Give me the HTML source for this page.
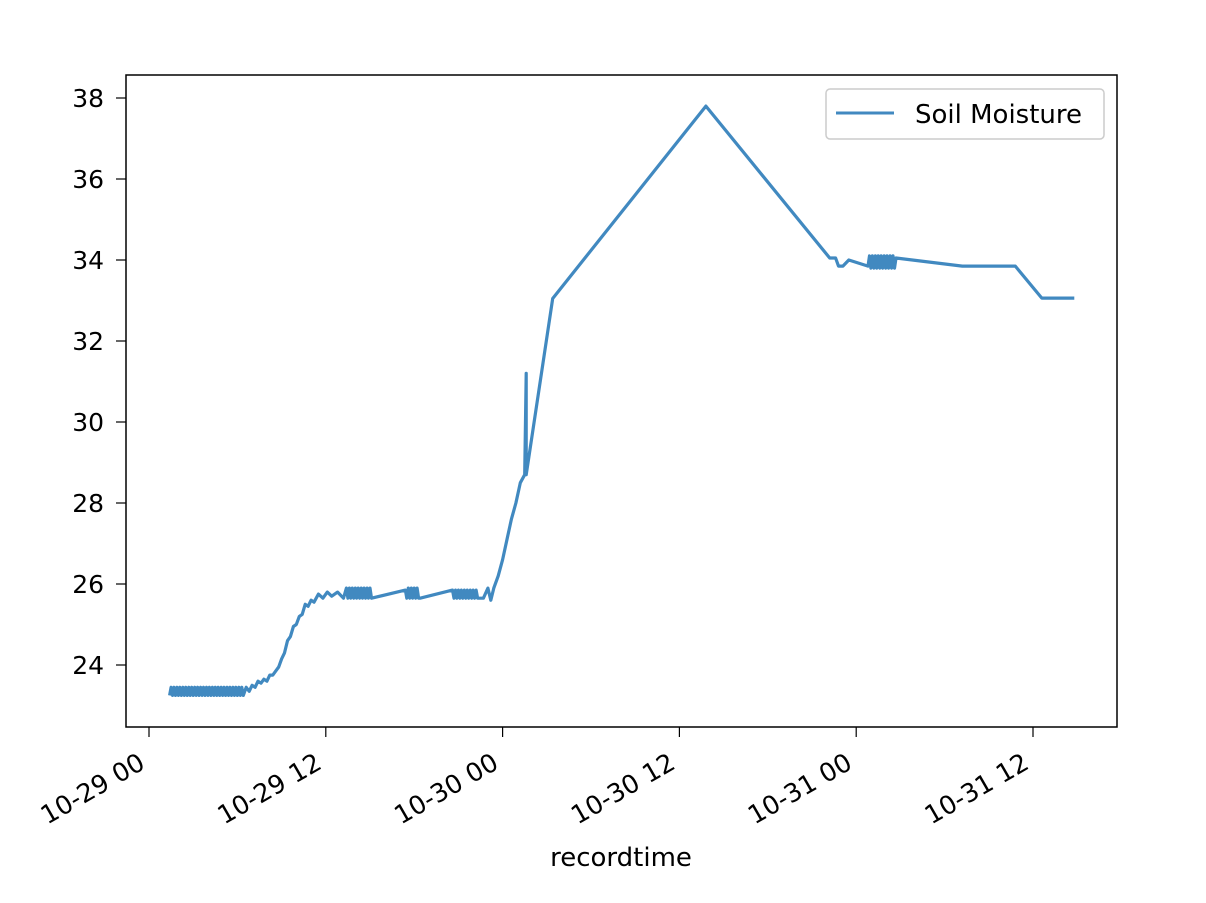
<!DOCTYPE html>
<html><head><meta charset="utf-8"><style>
body{margin:0;background:#fff}
svg text{font-family:"DejaVu Sans","Liberation Sans",sans-serif;fill:#000}
</style></head><body>
<svg id="chart" width="1206" height="898" xmlns="http://www.w3.org/2000/svg">
<g id="plot"></g>
<rect x="126" y="75" width="991" height="652" fill="none" stroke="#000" stroke-width="1.5"/>
<g id="xticks"></g><g id="yticks"></g>
<text x="621" y="866" font-size="26" text-anchor="middle">recordtime</text>
<g>
<rect x="826" y="89" width="278" height="50" rx="4" fill="#fff" stroke="#ccc" stroke-width="1.5"/>
<line x1="836" y1="113" x2="894" y2="113" stroke="#4189c0" stroke-width="3"/>
<text x="915" y="123" font-size="26">Soil Moisture</text>
</g>
</svg>
<script>
const hours=[
1.4,1.5,1.6,1.7,1.8,1.9,2.0,2.1,2.2,2.3,2.4,2.5,2.6,2.7,2.8,2.9,3.0,3.1,3.2,3.3,3.4,3.5,3.6,3.7,3.8,3.9,4.0,4.1,4.2,4.3,4.4,4.5,4.6,4.7,4.8,4.9,5.0,5.1,5.2,5.3,5.4,5.5,5.6,5.7,5.8,5.9,6.0,6.1,6.2,6.3,6.4,
6.6,6.8,7.0,7.2,7.4,7.6,7.8,8.0,8.2,8.4,8.6,8.8,9.0,9.2,9.4,9.6,9.8,10.0,10.2,10.4,10.6,10.8,11.0,11.2,11.5,11.8,12.1,12.4,12.8,13.2,
13.4,13.5,13.6,13.7,13.8,13.9,14.0,14.1,14.2,14.3,14.4,14.5,14.6,14.7,14.8,14.9,15.0,15.1,
17.4,17.5,17.6,17.7,17.8,17.9,18.0,18.1,18.2,18.3,18.4,
20.6,20.7,20.8,20.9,21.0,21.1,21.2,21.3,21.4,21.5,21.6,21.7,21.8,21.9,22.0,22.1,22.2,22.3,
22.7,23.0,23.2,23.4,23.7,24.0,24.3,24.6,24.9,25.2,25.5,25.6,25.6,25.6,
27.4,37.8,46.2,46.6,46.8,47.1,47.5,
48.8,48.9,49.0,49.1,49.2,49.3,49.4,49.5,49.6,49.7,49.8,49.9,50.0,50.1,50.2,50.3,50.4,50.5,50.6,
50.7,55.2,58.8,60.6,62.8];
const moisture=[
23.25,23.45,23.25,23.45,23.25,23.45,23.25,23.45,23.25,23.45,23.25,23.45,23.25,23.45,23.25,23.45,23.25,23.45,23.25,23.45,23.25,23.45,23.25,23.45,23.25,23.45,23.25,23.45,23.25,23.45,23.25,23.45,23.25,23.45,23.25,23.45,23.25,23.45,23.25,23.45,23.25,23.45,23.25,23.45,23.25,23.45,23.25,23.45,23.25,23.45,23.25,
23.45,23.35,23.5,23.45,23.6,23.55,23.65,23.6,23.75,23.75,23.85,23.95,24.15,24.3,24.6,24.7,24.95,25.0,25.2,25.25,25.5,25.45,25.6,25.55,25.75,25.65,25.8,25.7,25.8,25.65,
25.9,25.65,25.9,25.65,25.9,25.65,25.9,25.65,25.9,25.65,25.9,25.65,25.9,25.65,25.9,25.65,25.9,25.65,
25.85,25.65,25.9,25.65,25.9,25.65,25.9,25.65,25.9,25.65,25.65,
25.85,25.65,25.85,25.65,25.85,25.65,25.85,25.65,25.85,25.65,25.85,25.65,25.85,25.65,25.85,25.65,25.85,25.65,
25.65,25.9,25.6,25.9,26.2,26.6,27.1,27.6,28.0,28.5,28.7,31.2,28.9,28.7,
33.05,37.8,34.05,34.05,33.85,33.85,34.0,
33.85,34.1,33.8,34.1,33.8,34.1,33.8,34.1,33.8,34.1,33.8,34.1,33.8,34.1,33.8,34.1,33.8,34.1,33.8,
34.05,33.85,33.85,33.06,33.06];
const xTickHours=[0,12,24,36,48,60];
const xTickLabels=["10-29 00","10-29 12","10-30 00","10-30 12","10-31 00","10-31 12"];
const yTicks=[24,26,28,30,32,34,36,38];
const NS="http://www.w3.org/2000/svg";
const xs=h=>149+h*(884/60);
const ys=v=>665-(v-24)*40.5;
const plot=document.getElementById('plot');
const line=document.createElementNS(NS,'polyline');


line.setAttribute('points',hours.map((h,i)=>xs(h).toFixed(1)+','+ys(moisture[i]).toFixed(1)).join(' '));
line.setAttribute('fill','none');line.setAttribute('stroke','#4189c0');line.setAttribute('stroke-width','3.2');line.setAttribute('stroke-linejoin','round');
plot.appendChild(line);
const xg=document.getElementById('xticks');
xTickHours.forEach((h,i)=>{const x=xs(h);
 const t=document.createElementNS(NS,'line');
 
 
 t.setAttribute('x1',x);t.setAttribute('x2',x);t.setAttribute('y1',727);t.setAttribute('y2',737);t.setAttribute('stroke','#000');t.setAttribute('stroke-width','1.2');xg.appendChild(t);
 const l=document.createElementNS(NS,'text');
 
 
 l.setAttribute('font-size','25.5');l.setAttribute('text-anchor','end');
 l.setAttribute('transform',`translate(${x-12},${751}) rotate(-30)`);l.setAttribute('dy','0.75em');
 l.textContent=xTickLabels[i];xg.appendChild(l);});
const yg=document.getElementById('yticks');
yTicks.forEach(v=>{const y=ys(v);
 const t=document.createElementNS(NS,'line');
 
 
 t.setAttribute('x1',116);t.setAttribute('x2',126);t.setAttribute('y1',y);t.setAttribute('y2',y);t.setAttribute('stroke','#000');t.setAttribute('stroke-width','1.2');yg.appendChild(t);
 const l=document.createElementNS(NS,'text');
 
 
 l.setAttribute('font-size','25');l.setAttribute('text-anchor','end');l.setAttribute('x',104);l.setAttribute('y',y+9);
 l.textContent=v;yg.appendChild(l);});
</script>
</body></html>
